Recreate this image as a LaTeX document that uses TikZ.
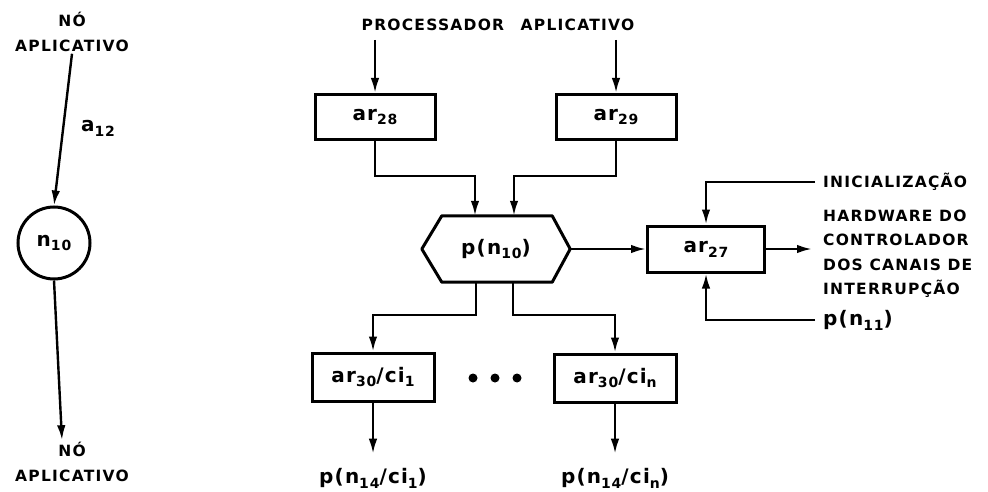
\documentclass[tikz,border=0pt]{standalone}
\usepackage{fontspec}
\setmainfont{DejaVu Sans}
\newfontfamily\capsfont[LetterSpace=8]{DejaVu Sans Bold}
\newfontfamily\lblfont[LetterSpace=6]{DejaVu Sans Bold}
\usetikzlibrary{
    calc,
    arrows.meta
}
\newcommand{\idx}[1]{\raisebox{-0.45ex}{\fontsize{14}{14}\selectfont #1}}

\begin{document}
\begin{tikzpicture}[x=1pt,y=-1pt,
    flow/.style={line width=2.4pt,-{Latex[length=15pt,width=8.5pt]}},
    blk/.style={draw,line width=3pt,minimum width=120pt,minimum height=45pt,
        inner sep=0pt,font=\lblfont\fontsize{20}{22}\selectfont},
    caps/.style={font=\capsfont\fontsize{15.5}{24.5}\selectfont,inner sep=2pt},
    lbl/.style={font=\lblfont\fontsize{20}{22}\selectfont,inner sep=2pt}
]
\useasboundingbox (0,0) rectangle (988,492);

% left: the applicative node
\node[caps,align=center] (topno) at (72,32) {NÓ\\APLICATIVO};
\node[draw,circle,line width=3pt,minimum size=72pt,inner sep=0pt,lbl] (n10) at (54,243) {n\idx{10}};
\node[lbl] (a12) at (98,128) {a\idx{12}};
\node[caps,align=center] (botno) at (72,462) {NÓ\\APLICATIVO};

\draw[flow] (topno.south) -- (n10.north);
\draw[flow] (n10.south) -- ([xshift=-10pt]botno.north);

% right: processor p(n10)
\node[caps] (proc) at (498,25) {PROCESSADOR\hspace{10pt} APLICATIVO};
\coordinate (p28) at (375,40);
\coordinate (p29) at (616,40);

\node[blk] (ar28) at (375,117) {ar\idx{28}};
\node[blk] (ar29) at (616,117) {ar\idx{29}};
\draw[flow] (p28) -- (ar28.north);
\draw[flow] (p29) -- (ar29.north);

\node[lbl,minimum width=148pt,minimum height=66pt] (hex) at (496,249) {p(n\idx{10})};
\draw[line width=3pt,line join=round] (hex.west) -- ([xshift=20pt]hex.north west)
    -- ([xshift=-18pt]hex.north east) -- (hex.east) -- ([xshift=-18pt]hex.south east)
    -- ([xshift=20pt]hex.south west) -- cycle;

\coordinate (j28) at (475,176);
\coordinate (j29) at (514,176);
\draw[flow] (ar28.south) |- (j28) -- (j28 |- hex.north);
\draw[flow] (ar29.south) |- (j29) -- (j29 |- hex.north);

% interrupt channel controller
\node[blk,minimum width=117pt,minimum height=46pt] (ar27) at (706,249) {ar\idx{27}};
\node[caps,anchor=west] (init) at (821,182) {INICIALIZAÇÃO};
\node[caps,anchor=west,align=left] (hw) at (821,254) {HARDWARE DO\\CONTROLADOR\\DOS CANAIS DE\\INTERRUPÇÃO};
\node[lbl,anchor=west] (pn11) at (821,320) {p(n\idx{11})};
\coordinate (hwin) at (812,249);

\draw[flow] (hex.east) -- (ar27.west);
\draw[flow] ([xshift=-6pt]init.west) -| (ar27.north);
\draw[flow] (ar27.east) -- (hwin);
\draw[flow] ([xshift=-6pt]pn11.west) -| (ar27.south);

% channels
\node[blk,minimum width=122pt,minimum height=48pt] (c1) at (373,377) {ar\idx{30}/ci\idx{1}};
\node[blk,minimum width=122pt,minimum height=48pt] (cn) at (615,378) {ar\idx{30}/ci\idx{n}};
\foreach \x in {473,495,517}
    \fill (\x,378) circle (4.5pt);

\coordinate (k1) at (476,315);
\coordinate (kn) at (513,315);
\draw[flow] (k1 |- hex.south) -- (k1) -| (c1.north);
\draw[flow] (kn |- hex.south) -- (kn) -| (cn.north);

\node[lbl] (o1) at (373,478) {p(n\idx{14}/ci\idx{1})};
\node[lbl] (on) at (615,478) {p(n\idx{14}/ci\idx{n})};
\draw[flow] (c1.south) -- ([yshift=12pt]o1.north);
\draw[flow] (cn.south) -- ([yshift=12pt]on.north);

\end{tikzpicture}
\end{document}
